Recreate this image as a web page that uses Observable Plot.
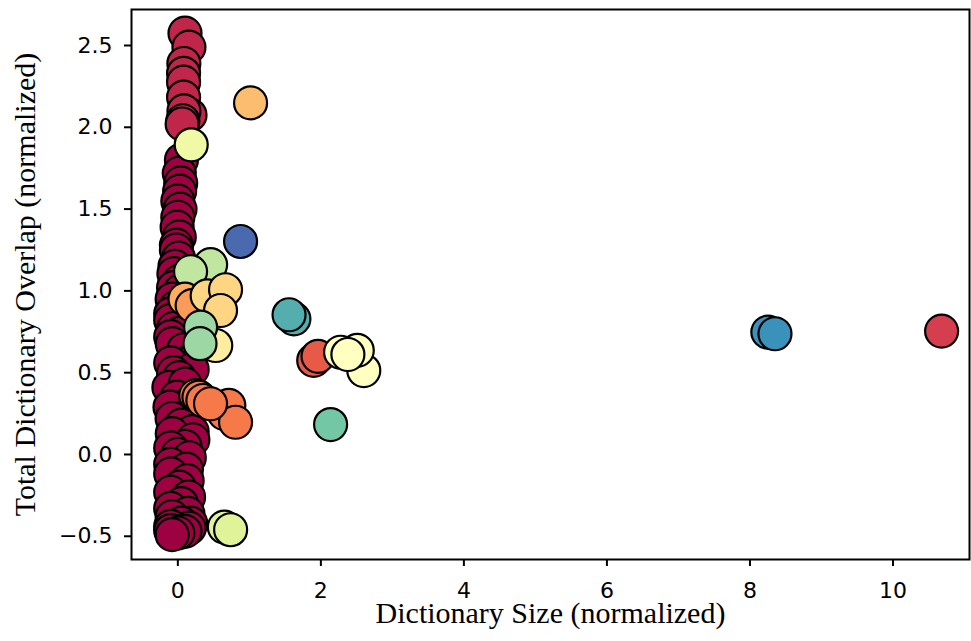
<!DOCTYPE html>
<html>
<head>
<meta charset="utf-8">
<script src="https://cdn.jsdelivr.net/npm/d3@7"></script>
<script src="https://cdn.jsdelivr.net/npm/@observablehq/plot@0.6"></script>
<style>
  html, body { margin: 0; padding: 0; background: #fff; }
</style>
</head>
<body>
<div id="chart"></div>
<script>
// ---- Data ----
// Main dense column near zero (group value 0)
const colSize = [0.05,0.02,0.04,0.025,0.0,0.03,0.0,-0.01,0.02,-0.02,-0.02,0.01,-0.04,-0.055,0.02,-0.06,0.03,
  -0.08,-0.03,-0.1,0.05,-0.1,-0.06,0.02,-0.1,-0.078,0.08,0.17,0.13,-0.1,0.2,-0.06,0.02,-0.125,0.1,
  -0.01,0.12,-0.11,0.15,-0.08,0.05,0.2,-0.078,0.21,0.1,-0.1,0.0,0.16,-0.1,0.12,-0.1,0.13,0.02,-0.1,
  0.15,0.05,-0.1,0.14,-0.08,0.18,0.05,-0.1,0.16,0.1,-0.1,0.0,-0.08];
const colOverlap = [1.80,1.72,1.66,1.61,1.55,1.50,1.45,1.39,1.33,1.28,1.25,1.20,1.15,1.105,1.06,1.02,1.00,
  0.95,0.90,0.86,0.84,0.82,0.77,0.74,0.72,0.677,0.64,0.57,0.554,0.56,0.52,0.50,0.47,0.41,0.43,
  0.35,0.30,0.29,0.24,0.22,0.18,0.14,0.127,0.09,0.05,0.04,0.0,-0.02,-0.06,-0.09,-0.118,-0.16,-0.2,-0.23,
  -0.26,-0.3,-0.33,-0.36,-0.38,-0.42,-0.42,-0.44,-0.45,-0.47,-0.465,-0.48,-0.49];

// Top stack (group value 0.06)
const topSize = [0.10,0.155,0.084,0.08,0.08,0.08,0.17,0.085,0.07,0.06];
const topOverlap = [2.575,2.49,2.39,2.33,2.276,2.184,2.075,2.10,2.04,2.02];

// Remaining points, each with its own group value
const otherSize = [1.017,0.187,0.877,0.33,0.458,0.178,0.10,0.20,0.41,0.667,0.597,0.53,0.318,0.31,
  0.25,0.295,0.35,0.60,0.65,0.713,0.807,0.457,
  0.65,0.738,1.623,1.555,1.90,1.96,2.60,2.509,2.276,2.378,2.136,8.25,8.35,10.68];
const otherOverlap = [2.149,1.893,1.302,1.07,1.16,1.118,0.95,0.91,0.97,1.007,0.88,0.666,0.778,0.677,
  0.36,0.35,0.33,0.28,0.25,0.30,0.197,0.31,
  -0.444,-0.46,0.829,0.854,0.575,0.60,0.513,0.636,0.625,0.611,0.183,0.748,0.738,0.754];
const otherGroup = [0.33,0.564,0.955,0.664,0.664,0.664,0.30,0.27,0.38,0.38,0.38,0.44,0.72,0.72,
  0.22,0.22,0.22,0.22,0.22,0.22,0.22,0.22,
  0.61,0.61,0.835,0.835,0.16,0.16,0.5,0.5,0.5,0.5,0.78,0.885,0.885,0.10];

const xTicks = [0, 2, 4, 6, 8, 10];
const yTicks = [-0.5, 0, 0.5, 1.0, 1.5, 2.0, 2.5];
const xLabel = "Dictionary Size (normalized)";
const yLabel = "Total Dictionary Overlap (normalized)";

// Spectral colormap stops (linear segmented, as in matplotlib)
const spectral = ["#9e0142","#d53e4f","#f46d43","#fdae61","#fee08b","#ffffbf","#e6f598","#abdda4","#66c2a5","#3288bd","#5e4fa2"];
const spectralStops = spectral.map((_, i) => i / 10);

// ---- Build table ----
const points = [];
colSize.forEach((s, i) => points.push({size: s, overlap: colOverlap[i], g: 0}));
topSize.forEach((s, i) => points.push({size: s, overlap: topOverlap[i], g: 0.06}));
otherSize.forEach((s, i) => points.push({size: s, overlap: otherOverlap[i], g: otherGroup[i]}));

const fmt = d3.format(".1f");

const chart = Plot.plot({
  width: 971,
  height: 641,
  marginLeft: 131,
  marginRight: 2,
  marginTop: 9,
  marginBottom: 82,
  style: {background: "white", color: "black", fontFamily: "DejaVu Sans", fontSize: "22px", overflow: "visible"},
  x: {domain: [-0.648, 11.07]},
  y: {domain: [-0.642, 2.72]},
  color: {type: "linear", domain: spectralStops, range: spectral, interpolate: "rgb"},
  marks: [
    Plot.dot(points, {x: "size", y: "overlap", fill: "g", r: 16.5, stroke: "black", strokeWidth: 2.2, fillOpacity: 1}),
    Plot.frame({stroke: "black", strokeWidth: 2}),
    Plot.axisX({ticks: xTicks, tickSize: 7, tickPadding: 16, strokeWidth: 2, label: null, fontSize: 22, tickFormat: d => d3.format("d")(d)}),
    Plot.axisY({ticks: yTicks, tickSize: 7, tickPadding: 12, strokeWidth: 2, label: null, fontSize: 22, tickFormat: fmt}),
    Plot.text([xLabel], {text: d => d, frameAnchor: "bottom", dy: 54, textAnchor: "middle", lineAnchor: "middle", fontFamily: "Liberation Serif", fontSize: 30, fill: "black"}),
    Plot.text([yLabel], {text: d => d, frameAnchor: "left", dx: -106.6, rotate: -90, textAnchor: "middle", lineAnchor: "middle", fontFamily: "Liberation Serif", fontSize: 30, fill: "black"})
  ]
});
document.getElementById("chart").appendChild(chart);
</script>
</body>
</html>
